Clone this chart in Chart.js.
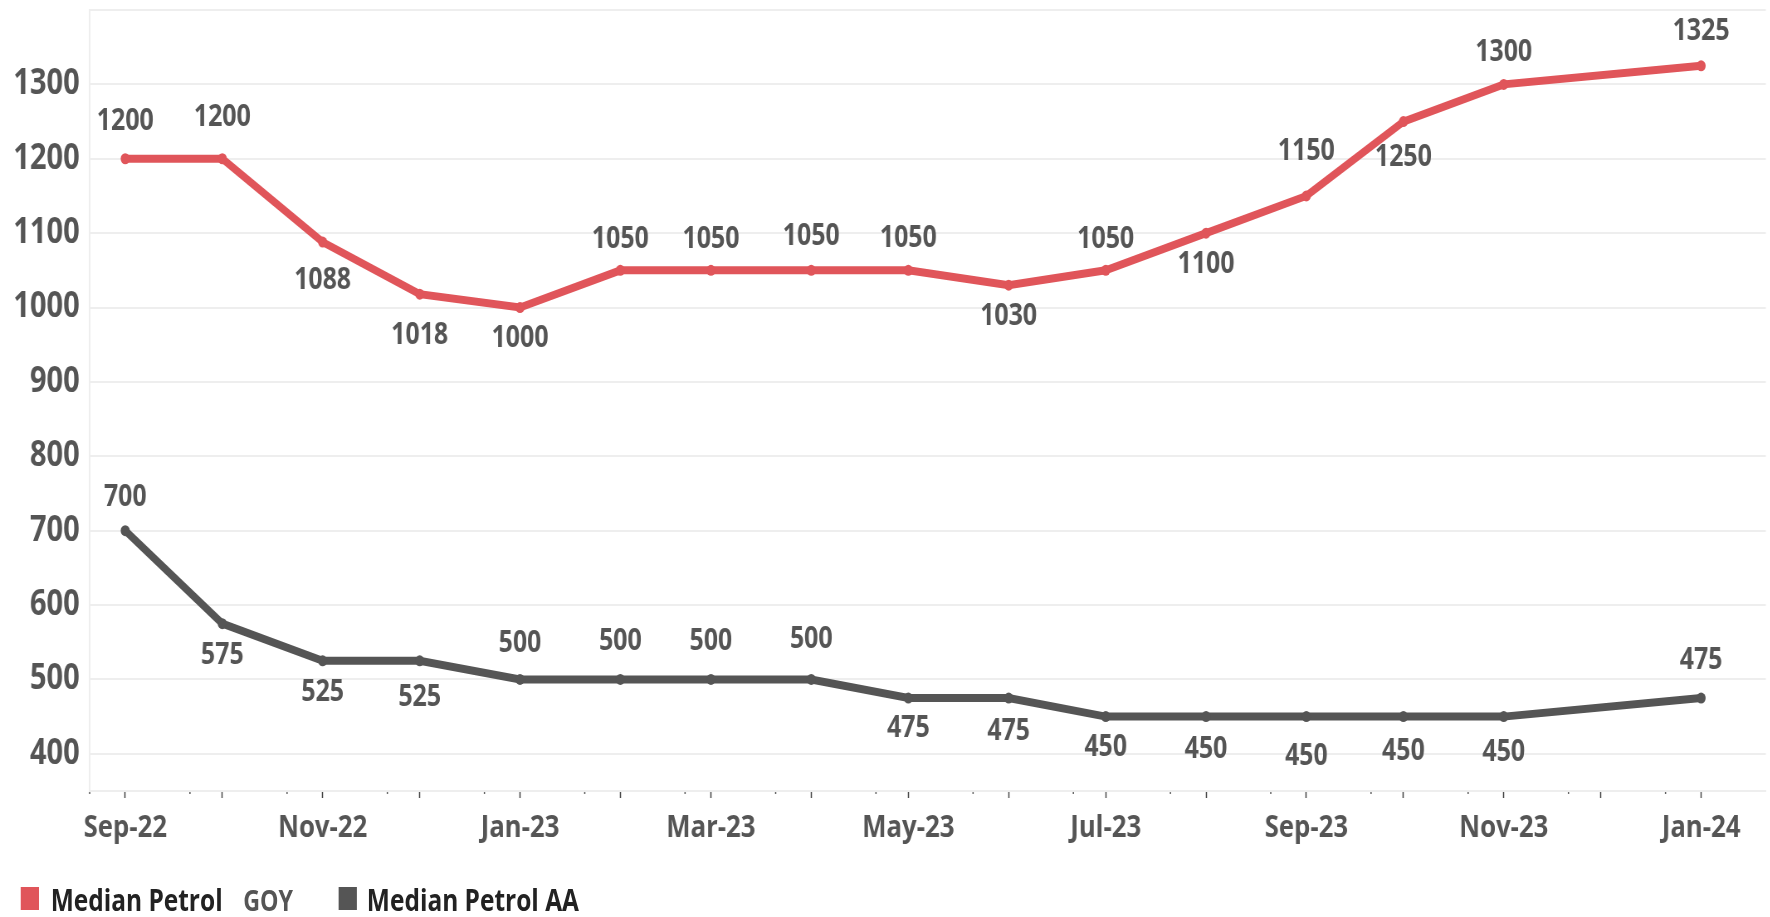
<!DOCTYPE html>
<html>
<head>
<meta charset="utf-8">
<script src="https://cdn.jsdelivr.net/npm/chart.js@4/dist/chart.umd.min.js"></script>
<style>
  html, body { margin: 0; padding: 0; background: #fff; overflow: hidden; }
  /* the source chart is horizontally compressed, so draw wide and squeeze */
  #wrap { position: relative; width: 2133px; height: 917px; transform: scaleX(0.83); transform-origin: 0 0; }
  #box { position: absolute; left: 0; top: 0; width: 2133px; height: 870px; }
  .lg { position: absolute; top: 880px; font-family: 'Open Sans', sans-serif; font-weight: 700;
        font-size: 29.5px; color: #222; white-space: nowrap; line-height: 40px; }
  .sw { position: absolute; top: 887px; width: 22px; height: 23px; }
</style>
</head>
<body>
<div id="wrap">
  <div id="box"><canvas id="chart"></canvas></div>
  <span class="sw" style="left:25px; background:#e0555a"></span>
  <span class="lg" style="left:61px">Median Petrol</span>
  <span class="lg" style="left:293px; font-size:28px; color:#555">GOY</span>
  <span class="sw" style="left:408px; background:#555555"></span>
  <span class="lg" style="left:442px">Median Petrol AA</span>
</div>
<script>
// ── Data ────────────────────────────────────────────────────────────────
var months    = ['Sep-22','Oct-22','Nov-22','Dec-22','Jan-23','Feb-23','Mar-23','Apr-23','May-23',
                 'Jun-23','Jul-23','Aug-23','Sep-23','Oct-23','Nov-23','Dec-23','Jan-24'];
var petrolGoy = [1200,1200,1088,1018,1000,1050,1050,1050,1050,1030,1050,1100,1150,1250,1300,null,1325];
var petrolAa  = [700,575,525,525,500,500,500,500,475,475,450,450,450,450,450,null,475];
var yTicks    = [400,500,600,700,800,900,1000,1100,1200,1300,1400];

// label offsets (px above / below each point)
var goyLabelDy = [-37,-41,38,41,31,-31,-31,-34,-32,31,-31,31,-44,36,-32,0,-34];
var aaLabelDy  = [-33,32,32,37,-36,-38,-38,-40,30,33,31,33,40,35,36,0,-38];

var MON = { Jan:0, Feb:1, Mar:2, Apr:3, May:4, Jun:5, Jul:6, Aug:7, Sep:8, Oct:9, Nov:10, Dec:11 };
var BASE = Date.UTC(2022, 8, 1);
function dayOf(y, m, d) { return (Date.UTC(y, m, d) - BASE) / 864e5; }
function monthDay(lbl) {
    var p = lbl.split('-');
    return dayOf(2000 + parseInt(p[1], 10), MON[p[0]], 1);
}
var monthX = months.map(monthDay);

function points(vals) {
    return vals.map(function(v, i) { return { x: monthX[i], y: v }; });
}

// ── Plugins ─────────────────────────────────────────────────────────────
var valueLabels = {
    id: 'valueLabels',
    afterDatasetsDraw: function(chart) {
        var ctx = chart.ctx;
        ctx.save();
        ctx.font = 'bold 30px "Open Sans"';
        ctx.fillStyle = '#555555';
        ctx.textAlign = 'center';
        ctx.textBaseline = 'middle';
        chart.data.datasets.forEach(function(ds, di) {
            var meta = chart.getDatasetMeta(di);
            meta.data.forEach(function(pt, i) {
                var v = ds.data[i].y;
                if (v === null) return;
                ctx.fillText(String(v), pt.x, pt.y + ds.labelDy[i]);
            });
        });
        ctx.restore();
    }
};

// small ticks on the 21st of each month
var minorTicks = {
    id: 'minorTicks',
    afterDraw: function(chart) {
        var sx = chart.scales.x, ctx = chart.ctx;
        ctx.save();
        ctx.strokeStyle = '#555';
        ctx.lineWidth = 1.5;
        for (var m = 7; m < 7 + 17; m++) {
            var d = dayOf(2022 + Math.floor(m / 12), m % 12, 21);
            var px = sx.getPixelForValue(d);
            ctx.beginPath();
            ctx.moveTo(px, sx.top + 1);
            ctx.lineTo(px, sx.top + 3);
            ctx.stroke();
        }
        ctx.restore();
    }
};

// ── Chart ───────────────────────────────────────────────────────────────
Chart.defaults.font.family = '"Open Sans", sans-serif';
Chart.defaults.color = '#555555';

new Chart(document.getElementById('chart'), {
    type: 'line',
    data: {
        datasets: [
            {
                label: 'Median Petrol GOY',
                data: points(petrolGoy),
                labelDy: goyLabelDy,
                borderColor: '#e0555a',
                backgroundColor: '#e0555a',
                borderWidth: 8,
                pointRadius: 5.5,
                pointBorderWidth: 0,
                tension: 0,
                spanGaps: true
            },
            {
                label: 'Median Petrol AA',
                data: points(petrolAa),
                labelDy: aaLabelDy,
                borderColor: '#555555',
                backgroundColor: '#555555',
                borderWidth: 8,
                pointRadius: 5.5,
                pointBorderWidth: 0,
                tension: 0,
                spanGaps: true
            }
        ]
    },
    options: {
        responsive: true,
        maintainAspectRatio: false,
        animation: false,
        layout: { padding: { top: 10, left: 0, right: 0, bottom: 0 } },
        plugins: { legend: { display: false }, tooltip: { enabled: false } },
        scales: {
            x: {
                type: 'linear',
                min: dayOf(2022, 7, 21),
                max: dayOf(2024, 0, 21),
                afterBuildTicks: function(s) {
                    s.ticks = monthX.map(function(v) { return { value: v }; });
                },
                afterFit: function(s) { s.height = 79; s.paddingLeft = 0; s.paddingRight = 0; },
                grid: { drawOnChartArea: false, drawTicks: true, tickLength: 7, tickColor: '#444', tickWidth: 1.5 },
                border: { display: true, color: '#eeeeee', width: 2 },
                ticks: {
                    autoSkip: false,
                    maxRotation: 0,
                    padding: 12,
                    font: { size: 31, weight: 'bold' },
                    color: '#555555',
                    callback: function(v) {
                        var i = monthX.indexOf(v);
                        return (i >= 0 && i % 2 === 0) ? months[i] : '';
                    }
                }
            },
            y: {
                min: 350,
                max: 1400,
                afterBuildTicks: function(s) {
                    s.ticks = yTicks.map(function(v) { return { value: v }; });
                },
                afterFit: function(s) { s.width = 108; s.paddingTop = 0; s.paddingBottom = 0; },
                grid: { color: '#eeeeee', lineWidth: 2, drawTicks: false },
                border: { display: true, color: '#eeeeee', width: 2 },
                ticks: {
                    padding: 12,
                    font: { size: 35, weight: 'bold' },
                    color: '#555555',
                    callback: function(v) { return v === 1400 ? '' : v; }
                }
            }
        }
    },
    plugins: [valueLabels, minorTicks]
});
</script>
</body>
</html>
